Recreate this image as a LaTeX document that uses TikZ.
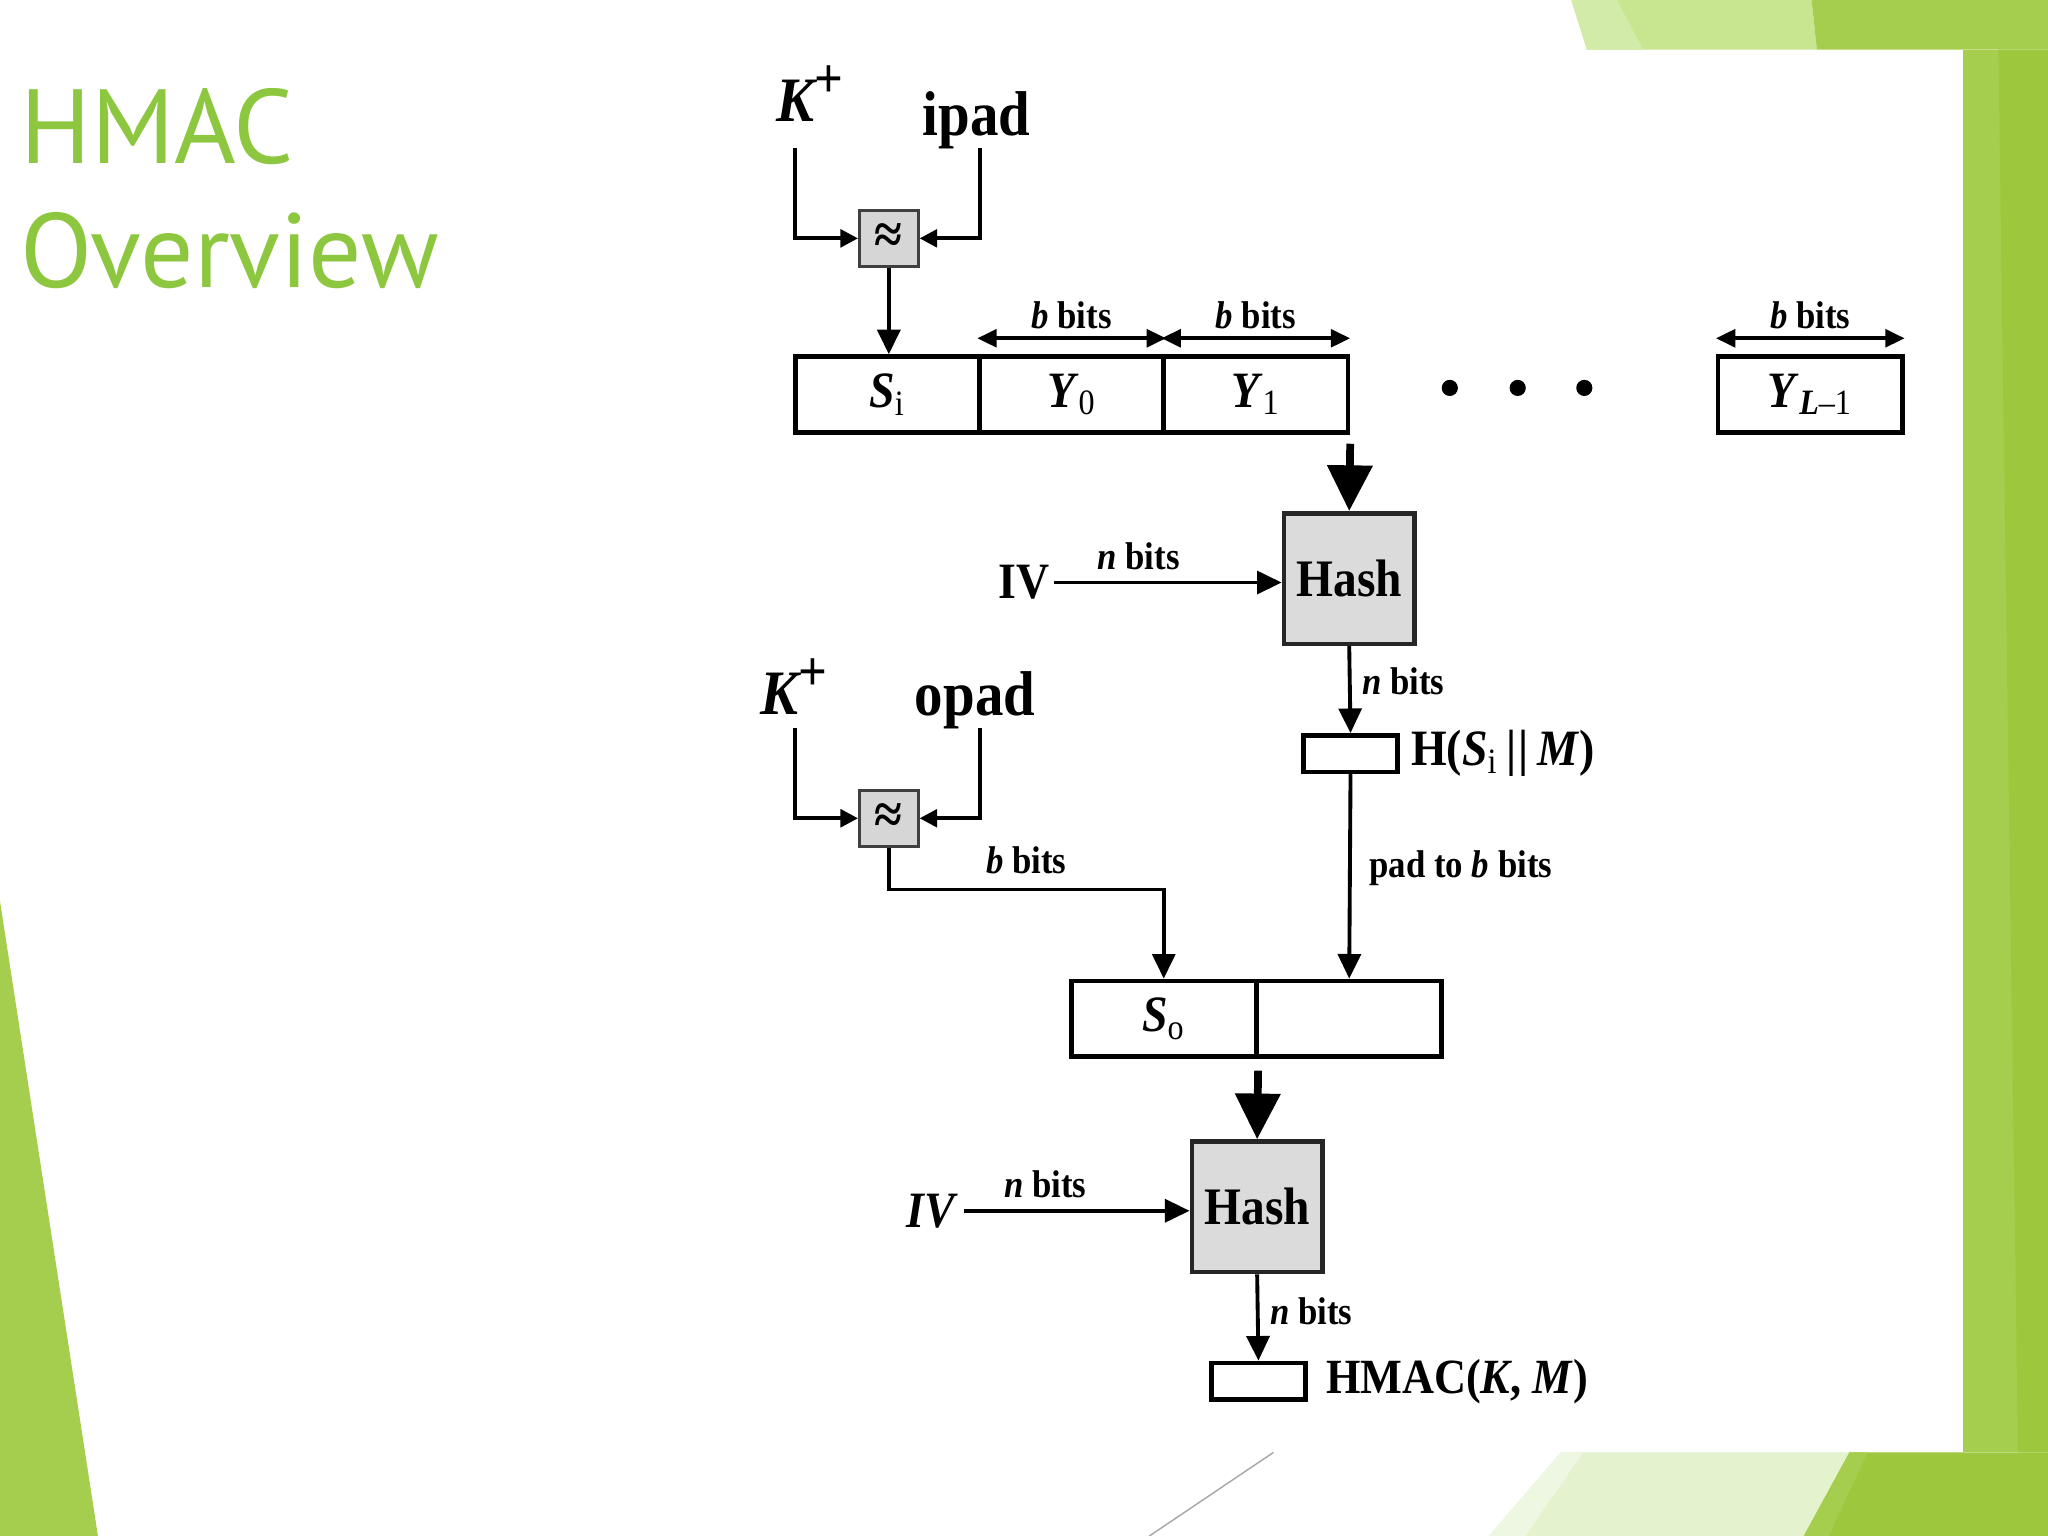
\documentclass[tikz,border=0pt]{standalone}
\usepackage{fontspec}
\setmainfont{Liberation Serif}
\newfontfamily\dfont[FakeStretch=0.9]{Liberation Serif}
\newfontfamily\tfont{PT Sans}
\usetikzlibrary{arrows.meta,calc}
\def\u{0.013061cm}
\definecolor{titlegreen}{HTML}{8DC63F}
\definecolor{gdark}{HTML}{9DC83E}
\definecolor{gmid}{HTML}{A6CE4E}
\definecolor{glight}{HTML}{C8E590}
\definecolor{glighter}{HTML}{D3EBA8}
\definecolor{gpale}{HTML}{E5F2CE}
\definecolor{gpaler}{HTML}{EEF7E1}
\newcommand\sbs[1]{\textsubscript{\mdseries\upshape #1}}
\newcommand\kplus{\textit{K}\kern-0.05em\raisebox{0.38em}{\fontsize{16}{17}\selectfont\bfseries +}}
\begin{document}
\begin{tikzpicture}[x=\u,y=-\u,
  cell/.style={draw, line width=1.3pt, minimum width={141*\u}, minimum height={58*\u}, inner sep=0pt, font=\dfont\fontsize{14.5}{16}\selectfont\bfseries},
  xorbox/.style={draw=black!75, fill=black!16, line width=0.8pt, minimum width={45*\u}, minimum height={43*\u}, inner sep=0pt, font=\dfont\fontsize{16}{17}\selectfont\bfseries},
  hashbox/.style={draw=black!85, fill=black!14, line width=1.3pt, minimum width={100*\u}, minimum height={100*\u}, inner sep=0pt, font=\dfont\fontsize{15}{17}\selectfont\bfseries},
  outbox/.style={draw, line width=1.3pt, minimum width={72*\u}, minimum height={28*\u}, inner sep=0pt},
  lbl/.style={font=\dfont\fontsize{11}{13}\selectfont\bfseries, inner sep=0pt},
  biglbl/.style={font=\dfont\fontsize{14.5}{17}\selectfont\bfseries, inner sep=0pt},
  keylbl/.style={font=\dfont\fontsize{18}{20}\selectfont\bfseries, inner sep=0pt},
  titlelbl/.style={font=\tfont\fontsize{30}{33}\selectfont, text=titlegreen, inner sep=0pt},
  arr/.style={line width=1.1pt, -{Triangle[length=7pt,width=6.5pt]}},
  xarr/.style={line width=1.1pt, -{Triangle[length=5pt,width=5pt]}},
  bigarr/.style={line width=2.2pt, -{Triangle[length=13pt,width=12.5pt]}},
  dimarr/.style={line width=1.1pt, {Triangle[length=5.5pt,width=5pt]}-{Triangle[length=5.5pt,width=5pt]}},
]
\useasboundingbox (0,0) rectangle (1568,1176);
% ---------- background ----------
\fill[white] (0,0) rectangle (1568,1176);
\fill[glight] (1203,0) -- (1387,0) -- (1391,38) -- (1215,38) -- cycle;
\fill[glighter] (1203,0) -- (1238,0) -- (1258,38) -- (1215,38) -- cycle;
\fill[gmid] (1387,0) -- (1568,0) -- (1568,38) -- (1391,38) -- cycle;
\fill[gmid] (1503,38) rectangle (1568,1112);
\fill[gdark] (1530,38) -- (1568,38) -- (1568,1112) -- (1545,1112) -- cycle;
\fill[gpale] (1140,1176) -- (1195,1112) -- (1416,1112) -- (1381,1176) -- cycle;
\fill[gpaler] (1140,1176) -- (1195,1112) -- (1212,1112) -- (1168,1176) -- cycle;
\fill[gdark] (1381,1176) -- (1416,1112) -- (1568,1112) -- (1568,1176) -- cycle;
\fill[gmid] (1381,1176) -- (1416,1112) -- (1430,1112) -- (1400,1176) -- cycle;
\draw[black!35, line width=0.4pt] (880,1176) -- (975,1112);
\fill[gmid] (0,690) -- (75,1176) -- (0,1176) -- cycle;
% ---------- title ----------
\node[titlelbl, anchor=base west] (t1) at (15,125) {HMAC};
\node[titlelbl, anchor=base west] (t2) at (15,220) {Overview};
% ---------- inner stage ----------
\node[keylbl, anchor=base west] (kp1) at (594,93) {\kplus};
\node[keylbl, anchor=base west] (ipad) at (706,104) {ipad};
\coordinate (k1s) at (609,113);
\coordinate (i1s) at (750,113);
\node[xorbox] (xor1) at (680.5,182.5) {≈};
\draw[xarr] (k1s) |- (xor1.west);
\draw[xarr] (i1s) |- (xor1.east);
\node[cell] (si) at (679.5,302) {\textit{S}\sbs{i}};
\node[cell] (y0) at (820.5,302) {\textit{Y}\sbs{0}};
\node[cell] (y1) at (961.5,302) {\textit{Y}\sbs{1}};
\node[cell] (yl) at (1386,302) {\textit{Y}\textsubscript{\textit{L}\mdseries–1}};
\draw[arr] (xor1.south) -- (xor1.south |- si.north);
\coordinate (dimy) at (0,259);
\draw[dimarr] (y0.west |- dimy) -- node[lbl, above=2pt] {\textit{b} bits} (y0.east |- dimy);
\draw[dimarr] (y1.west |- dimy) -- node[lbl, above=2pt] {\textit{b} bits} (y1.east |- dimy);
\draw[dimarr] (yl.west |- dimy) -- node[lbl, above=2pt] {\textit{b} bits} (yl.east |- dimy);
\fill (1110,297) circle[radius=2.3pt];
\fill (1162,297) circle[radius=2.3pt];
\fill (1213,297) circle[radius=2.3pt];
\node[hashbox] (hash1) at (1033,443) {Hash};
\draw[bigarr] ([yshift={-7*\u}]y1.south east) -- (hash1.north);
\node[biglbl, anchor=east] (iv1) at (804,446) {IV};
\draw[arr] (iv1.east) ++(1.2pt,0) -- node[lbl, above=3pt, pos=0.37] {\textit{n} bits} (iv1.east -| hash1.west);
\node[outbox] (h1out) at (1034,577) {};
\node[biglbl, anchor=west] (hlbl) at ([xshift=3pt]h1out.east) {H(\textit{S}\sbs{i}\,\textbar\kern0.04em\textbar\,\textit{M})};
\draw[arr] (hash1.south) -- node[lbl, right=3pt, pos=0.4] {\textit{n} bits} (h1out.north);
% ---------- outer stage ----------
\node[keylbl, anchor=base west] (kp2) at (582,547) {\kplus};
\node[keylbl, anchor=base west] (opad) at (700,548) {opad};
\coordinate (k2s) at (609,557);
\coordinate (o2s) at (750,557);
\node[xorbox] (xor2) at (680.5,626.5) {≈};
\draw[xarr] (k2s) |- (xor2.west);
\draw[xarr] (o2s) |- (xor2.east);
\node[cell] (so) at (891,780) {\textit{S}\sbs{o}};
\node[cell] (sr) at (1033,780) {};
\coordinate (turn) at (0,681);
\draw[arr] (xor2.south) -- (xor2.south |- turn) -- node[lbl, above=4pt] {\textit{b} bits} (so.north |- turn) -- (so.north);
\draw[arr] (h1out.south) -- node[lbl, right=5pt, pos=0.46] {pad to \textit{b} bits} (sr.north);
\node[hashbox] (hash2) at (962.5,924) {Hash};
\draw[bigarr] ([yshift={-9*\u}]so.south east) -- (hash2.north);
\node[biglbl, anchor=east] (iv2) at (734,927) {\textit{IV}};
\draw[arr] (iv2.east) ++(1.5pt,0) -- node[lbl, above=3pt, pos=0.36] {\textit{n} bits} (iv2.east -| hash2.west);
\node[outbox] (hmac) at (963.5,1057.5) {};
\draw[arr] (hash2.south) -- node[lbl, right=3pt, pos=0.43] {\textit{n} bits} (hmac.north);
\node[biglbl, anchor=west, font=\dfont\fontsize{14}{16}\selectfont\bfseries] (hmaclbl) at ([xshift=5pt]hmac.east) {HMAC(\textit{K}, \textit{M})};
\end{tikzpicture}
\end{document}
